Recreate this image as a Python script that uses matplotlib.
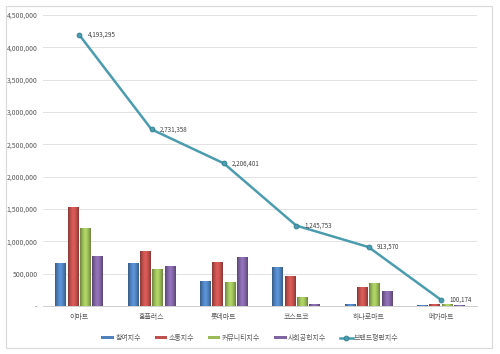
import numpy as np
import matplotlib
matplotlib.use('Agg')
import matplotlib.pyplot as plt
from matplotlib.patches import Rectangle
from matplotlib.colors import to_rgb
from matplotlib.ticker import FuncFormatter

plt.rcParams['font.family'] = ['Noto Sans CJK KR', 'DejaVu Sans']

stores = ['이마트', '홈플러스', '롯데마트', '코스트코', '하나로마트', '메가마트']
participation = [670000, 670000, 390000, 610000, 30000, 25000]
communication = [1530000, 860000, 680000, 460000, 295000, 30000]
community = [1210000, 580000, 370000, 140000, 355000, 30000]
social = [780000, 620000, 760000, 35000, 235000, 15000]
reputation = [4193295, 2731358, 2206401, 1245753, 913570, 100174]

series_names = ['참여지수', '소통지수', '커뮤니티지수', '사회공헌지수']
series_colors = ['#4F81BD', '#C0504D', '#9BBB59', '#8064A2']
line_color = '#4A9CAE'

fig = plt.figure(figsize=(5.0, 3.54), dpi=100)
fig.patches.append(Rectangle((0.012, 0.018), 0.972, 0.966, transform=fig.transFigure,
                             fill=False, edgecolor='#D9D9D9', linewidth=0.8))
ax = fig.add_axes([0.086, 0.135, 0.868, 0.823])

x = np.arange(len(stores))
width = 0.15
step = 0.17
data = [participation, communication, community, social]


def shade_bars(bars, color):
    # fake the excel bevel look: dark edges, light middle
    base = np.array(to_rgb(color))
    t = np.linspace(-1, 1, 32)
    k = 1 - np.abs(t) ** 1.5
    row = np.array([base * (0.7 + 0.45 * v) for v in k]).clip(0, 1)
    img = row[np.newaxis, :, :]
    for b in bars:
        x0, y0 = b.get_x(), b.get_y()
        w, h = b.get_width(), b.get_height()
        im = ax.imshow(img, extent=(x0, x0 + w, y0, y0 + h), aspect='auto',
                       zorder=b.get_zorder(), interpolation='bilinear')
        im.set_clip_path(b)


handles = []
for i, (vals, name, col) in enumerate(zip(data, series_names, series_colors)):
    offs = (i - 1.5) * step
    bars = ax.bar(x + offs, vals, width, color=col, label=name, zorder=2,
                  edgecolor='none')
    shade_bars(bars, col)
    handles.append(bars)

line, = ax.plot(x, reputation, color=line_color, linewidth=1.8, marker='o',
                markersize=3.5, markerfacecolor=line_color, markeredgecolor='#2F7F90',
                markeredgewidth=0.6, label='브랜드평판지수', zorder=4)
for xi, v in zip(x, reputation):
    ax.annotate(format(v, ','), (xi, v), xytext=(6, 0), textcoords='offset points',
                fontsize=4.5, color='#404040', va='center', ha='left', zorder=5)

ax.set_xlim(-0.5, len(stores) - 0.5)
ax.set_ylim(0, 4500000)
ax.set_yticks(np.arange(0, 4500001, 500000))
ax.yaxis.set_major_formatter(FuncFormatter(lambda v, p: '-' if v == 0 else format(int(v), ',')))
ax.set_xticks(x)
ax.set_xticklabels(stores)
ax.tick_params(axis='both', length=0, labelsize=5, colors='#595959')
ax.tick_params(axis='x', pad=5)
ax.tick_params(axis='y', pad=4)
ax.grid(axis='y', color='#E3E3E3', linewidth=0.7, zorder=0)
ax.set_axisbelow(True)
for s in ['top', 'right', 'left']:
    ax.spines[s].set_visible(False)
ax.spines['bottom'].set_color('#D0D0D0')
ax.spines['bottom'].set_linewidth(0.7)

leg = fig.legend(handles + [line], series_names + ['브랜드평판지수'], loc='center',
                 bbox_to_anchor=(0.5, 0.045), ncol=5, frameon=False, fontsize=5,
                 handlelength=1.8, handleheight=0.35, columnspacing=2.0, handletextpad=0.2)
for t in leg.get_texts():
    t.set_color('#595959')

fig.savefig('out.png', dpi=100)
